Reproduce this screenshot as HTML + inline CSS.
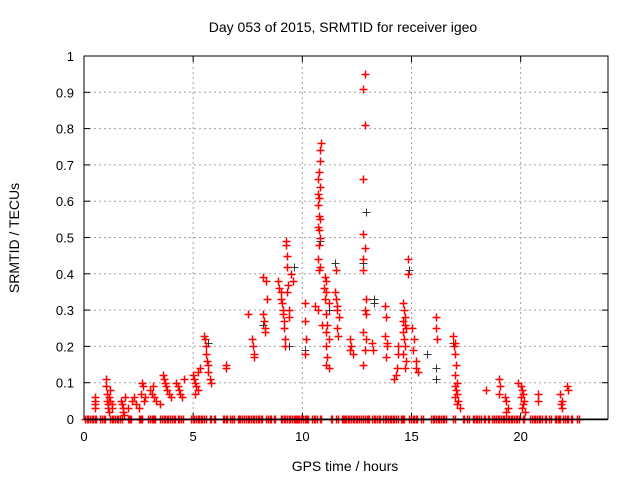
<!DOCTYPE html>
<html><head><meta charset="utf-8"><style>
body{margin:0;background:#fff;}
svg text{font-family:"Liberation Sans",sans-serif;font-size:13px;fill:#000;}
</style></head><body>
<svg id="chart" width="640" height="480" viewBox="0 0 640 480" xmlns="http://www.w3.org/2000/svg">
<text x="343" y="32" text-anchor="middle" style="font-size:14px">Day 053 of 2015, SRMTID for receiver igeo</text>
<text x="345" y="471" text-anchor="middle" style="font-size:14px">GPS time / hours</text>
<text transform="translate(19,238) rotate(-90)" text-anchor="middle" style="font-size:14px">SRMTID / TECUs</text>
<g id="grid"></g>
<g id="axes"></g>
<g id="black-series"></g>
<g id="red-series"></g>
<rect x="84" y="56" width="524" height="363" fill="none" stroke="#000" stroke-width="1"/>
<line x1="84" x2="608" y1="419.5" y2="419.5" stroke="#000" stroke-width="1.5"/>
</svg>
<script>
const xTicks=[0,5,10,15,20];
const yTicks=[0,0.1,0.2,0.3,0.4,0.5,0.6,0.7,0.8,0.9,1];
const yTickLabels=["0","0.1","0.2","0.3","0.4","0.5","0.6","0.7","0.8","0.9","1"];
const redHours=[0.5,0.5,0.5,0.5,1.0,1.0,1.05,1.05,1.1,1.1,1.15,1.15,1.2,1.2,1.3,1.3,1.7,1.75,1.8,1.8,1.85,1.9,2.0,2.2,2.3,2.4,2.5,2.6,2.65,2.7,2.75,2.8,3.0,3.1,3.15,3.2,3.3,3.5,3.6,3.65,3.7,3.75,3.8,3.9,4.0,4.2,4.3,4.35,4.4,4.5,4.6,5.0,5.05,5.1,5.15,5.2,5.2,5.3,5.1,5.5,5.55,5.6,5.6,5.65,5.7,5.7,5.75,5.8,6.5,6.5,7.5,7.7,7.75,7.8,7.8,8.2,8.25,8.3,8.3,8.2,8.35,8.4,8.9,8.95,9.0,9.0,9.05,9.1,9.1,9.15,9.15,9.2,9.2,9.25,9.25,9.3,9.3,9.35,9.3,9.4,9.4,9.5,9.55,10.1,10.1,10.15,10.1,10.85,10.8,10.8,10.75,10.7,10.8,10.7,10.75,10.7,10.75,10.8,10.7,10.75,10.8,10.75,10.7,10.8,10.75,10.6,10.7,10.9,11.05,11.1,11.0,11.1,11.05,11.2,11.1,11.15,11.1,11.2,11.1,11.15,11.1,11.2,11.5,11.55,11.6,11.6,11.7,11.6,11.65,11.55,12.2,12.25,12.2,12.3,12.85,12.8,12.85,12.8,12.8,12.85,12.8,12.8,12.9,12.85,12.8,12.9,12.85,12.8,12.9,13.2,13.25,13.8,13.85,13.8,13.9,13.85,13.9,14.2,14.3,14.35,14.4,14.4,14.6,14.65,14.7,14.6,14.7,14.75,14.6,14.65,14.7,14.6,14.75,14.7,14.85,14.85,15.0,15.1,15.05,15.2,15.2,15.3,16.1,16.1,16.15,16.9,17.0,16.95,17.0,17.05,17.0,17.1,17.0,17.05,17.1,17.0,17.15,17.1,17.2,18.4,19.0,19.05,19.0,19.3,19.35,19.4,19.35,19.9,20.0,20.05,20.1,20.0,20.15,20.1,20.05,20.2,20.8,20.8,21.8,21.9,21.85,21.9,22.1,22.15];
const redValues=[0.05,0.04,0.03,0.06,0.11,0.09,0.07,0.05,0.04,0.03,0.02,0.06,0.08,0.05,0.04,0.03,0.05,0.04,0.03,0.02,0.01,0.06,0.03,0.05,0.06,0.04,0.03,0.07,0.10,0.09,0.05,0.06,0.08,0.07,0.09,0.06,0.05,0.04,0.12,0.11,0.10,0.09,0.08,0.07,0.06,0.10,0.09,0.08,0.07,0.06,0.11,0.12,0.11,0.10,0.09,0.08,0.13,0.14,0.07,0.23,0.22,0.20,0.18,0.16,0.15,0.13,0.11,0.10,0.15,0.14,0.29,0.22,0.20,0.18,0.17,0.29,0.27,0.25,0.24,0.39,0.38,0.33,0.38,0.36,0.35,0.33,0.32,0.30,0.29,0.27,0.25,0.22,0.20,0.49,0.48,0.45,0.42,0.37,0.35,0.30,0.28,0.40,0.38,0.32,0.27,0.22,0.18,0.76,0.74,0.71,0.68,0.66,0.64,0.62,0.61,0.59,0.56,0.55,0.53,0.52,0.50,0.48,0.44,0.42,0.41,0.31,0.30,0.26,0.39,0.38,0.36,0.35,0.33,0.32,0.29,0.26,0.24,0.22,0.20,0.17,0.15,0.14,0.35,0.33,0.31,0.30,0.28,0.25,0.23,0.41,0.22,0.20,0.19,0.18,0.95,0.91,0.81,0.66,0.51,0.47,0.44,0.41,0.33,0.30,0.24,0.22,0.19,0.15,0.29,0.21,0.19,0.31,0.28,0.23,0.20,0.17,0.21,0.11,0.12,0.14,0.18,0.20,0.32,0.30,0.28,0.27,0.26,0.25,0.24,0.22,0.20,0.18,0.16,0.14,0.44,0.40,0.25,0.22,0.19,0.16,0.14,0.13,0.28,0.25,0.22,0.23,0.21,0.20,0.18,0.15,0.12,0.10,0.09,0.08,0.07,0.06,0.05,0.04,0.03,0.08,0.11,0.09,0.07,0.06,0.05,0.03,0.02,0.10,0.09,0.08,0.07,0.06,0.05,0.04,0.03,0.02,0.07,0.05,0.07,0.05,0.04,0.03,0.09,0.08];
const zeroHours=[0.05,0.2,0.35,0.5,0.75,0.9,1.2,1.35,1.5,1.65,2.0,2.1,2.5,2.6,2.95,3.1,3.2,3.5,3.65,3.8,3.95,4.1,4.3,4.45,4.9,5.05,5.2,5.35,5.5,5.75,5.95,6.35,6.5,6.7,6.8,7.05,7.15,7.35,7.5,7.65,7.8,7.95,8.1,8.35,8.5,8.7,9.0,9.15,9.3,9.45,9.6,9.7,9.8,9.95,10.1,10.2,10.45,10.6,10.8,11.3,11.55,11.8,11.9,12.0,12.15,12.3,12.45,12.6,12.8,12.95,13.0,13.2,13.35,13.5,13.7,13.85,14.0,14.15,14.3,14.5,14.6,14.9,15.05,15.2,15.45,15.9,16.05,16.2,16.35,16.5,16.9,17.35,17.55,17.8,17.95,18.1,18.3,18.5,18.7,18.8,18.95,19.1,19.25,19.4,19.55,19.7,19.85,20.1,20.45,20.6,20.75,20.9,21.1,21.3,21.55,21.7,21.75,21.95,22.1,22.3,22.6];
const blackHours=[5.7,8.2,9.4,9.6,10.1,10.8,11.2,11.5,12.8,12.9,13.3,13.3,14.9,15.7,16.1,16.9,16.1];
const blackValues=[0.21,0.26,0.20,0.42,0.19,0.49,0.30,0.43,0.43,0.57,0.33,0.32,0.41,0.18,0.14,0.21,0.11];

const NS="http://www.w3.org/2000/svg";
const X0=84,X1=608,Y0=419,Y1=56,XMAX=24;
function xs(h){return X0+h*(X1-X0)/XMAX;}
function ys(v){return Y0-v*(Y0-Y1);}
function mk(tag,attrs,parent){const e=document.createElementNS(NS,tag);for(const k in attrs)e.setAttribute(k,attrs[k]);parent.appendChild(e);return e;}
const grid=document.getElementById('grid'),axes=document.getElementById('axes');
xTicks.forEach((t,i)=>{
  const x=xs(t);
  if(t>0){const g=mk('line',{x1:x,x2:x,y1:Y0,y2:Y1,stroke:'#a0a0a0','stroke-dasharray':'2,3'},grid);
  
  }
  const tk=mk('line',{x1:x,x2:x,y1:Y0,y2:Y0-6,stroke:'#000'},axes);
  
  
  const tk2=mk('line',{x1:x,x2:x,y1:Y1,y2:Y1+6,stroke:'#000'},axes);
  
  
  const l=mk('text',{x:x,y:441,'text-anchor':'middle'},axes);l.textContent=String(t);
  
  
});
yTicks.forEach((t,i)=>{
  const y=ys(t);
  if(t>0&&t<1){const g=mk('line',{x1:X0,x2:X1,y1:y,y2:y,stroke:'#a0a0a0','stroke-dasharray':'2,3'},grid);
  
  }
  const tk=mk('line',{x1:X0,x2:X0+6,y1:y,y2:y,stroke:'#000'},axes);
  
  
  const tk2=mk('line',{x1:X1,x2:X1-6,y1:y,y2:y,stroke:'#000'},axes);
  
  
  const l=mk('text',{x:74,y:y+5,'text-anchor':'end'},axes);l.textContent=yTickLabels[i];
  
  
});
function plus(parent,h,v,color,w){
  const x=Math.round(xs(h))+0.5,y=Math.round(ys(v))+0.5;
  const p=mk('path',{d:`M${x-4},${y}H${x+4}M${x},${y-4}V${y+4}`,stroke:color,'stroke-width':w,fill:'none'},parent);
  
  
}
const bg=document.getElementById('black-series'),rg=document.getElementById('red-series');
blackHours.forEach((h,i)=>plus(bg,h,blackValues[i],'#333',1));
redHours.forEach((h,i)=>plus(rg,h,redValues[i],'#ff0000',1.5));
zeroHours.forEach(h=>{plus(rg,h,0,'#ff0000',1.5);plus(rg,h+0.07,0,'#ff0000',1.5);});
</script>
</body></html>
